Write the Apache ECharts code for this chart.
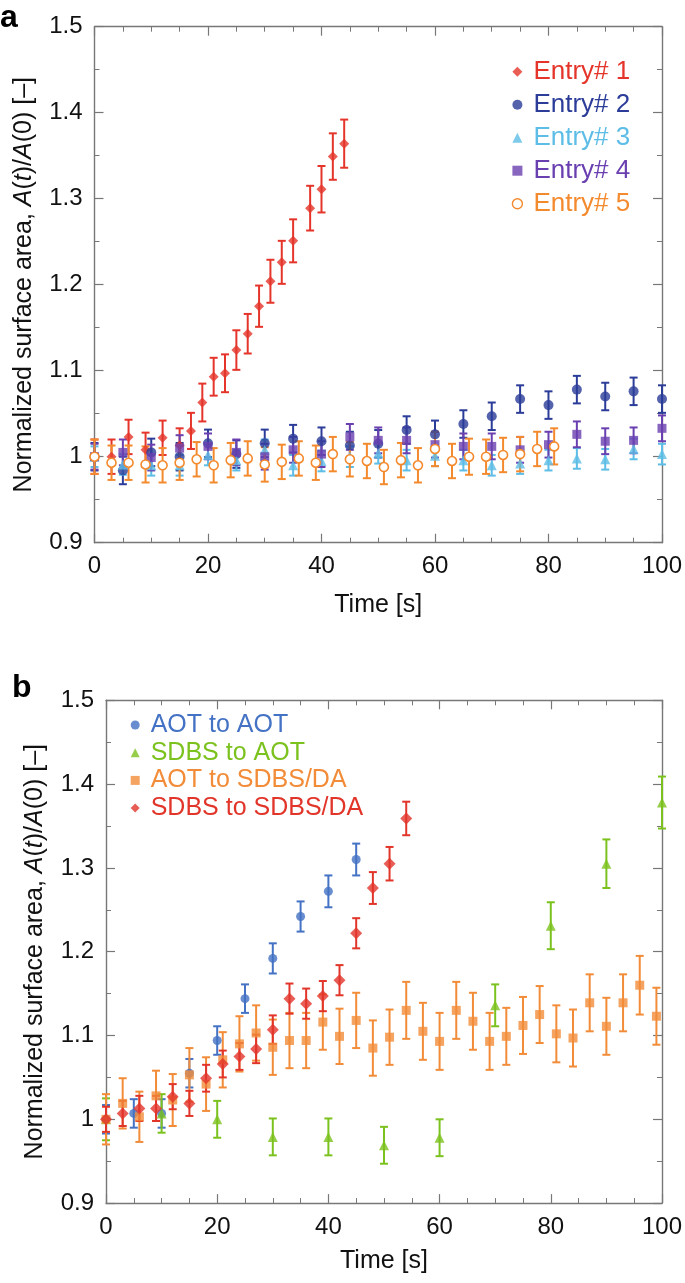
<!DOCTYPE html>
<html><head><meta charset="utf-8">
<script src="https://cdn.jsdelivr.net/npm/echarts@6/dist/echarts.min.js"></script>
<style>html,body{margin:0;padding:0;background:#fff}#c{width:685px;height:1283px}</style>
</head><body><div id="c"></div>
<script>
// ---------- Panel a data ----------
const a1T = [0,3,6,9,12,15,17,19,21,23,25,27,29,31,33,35,38,40,42,44];
const a1V = [1.0,1.0,1.023,1.008,1.022,1.013,1.030,1.063,1.093,1.097,1.124,1.143,1.175,1.204,1.226,1.251,1.289,1.311,1.349,1.364];
const a1E = [0.02,0.02,0.02,0.02,0.02,0.02,0.021,0.022,0.022,0.022,0.023,0.023,0.024,0.025,0.025,0.025,0.026,0.027,0.027,0.028];

const a2T = [0,5,10,15,20,25,30,35,40,45,50,55,60,65,70,75,80,85,90,95,100];
const a2V = [1.0,0.984,1.005,1.0,1.0155,1.003,1.0155,1.021,1.018,1.013,1.015,1.031,1.026,1.038,1.047,1.067,1.060,1.078,1.070,1.076,1.067];
const a2E = [0.016,0.016,0.016,0.016,0.016,0.016,0.016,0.016,0.016,0.016,0.016,0.016,0.016,0.016,0.016,0.016,0.016,0.016,0.016,0.016,0.016];

const a3T = [0,5,10,15,20,25,30,35,40,45,50,55,60,65,70,75,80,85,90,95,100];
const a3V = [1.0,0.991,0.99,0.99,1.002,0.996,1.008,0.99,0.995,1.0,1.004,0.996,1.001,0.996,0.99,0.992,0.996,0.998,0.997,1.009,1.003];
const a3E = [0.012,0.012,0.012,0.012,0.012,0.012,0.012,0.012,0.012,0.012,0.012,0.012,0.012,0.012,0.012,0.012,0.012,0.012,0.012,0.012,0.012];

const a4T = [0,5,10,15,20,25,30,35,40,45,50,55,60,65,70,75,80,85,90,95,100];
const a4V = [1.0,1.005,0.999,1.01,1.012,1.005,1.0,1.008,1.003,1.023,1.019,1.019,1.014,1.012,1.012,1.008,1.014,1.026,1.018,1.019,1.033];
const a4E = [0.015,0.015,0.015,0.015,0.015,0.015,0.015,0.015,0.015,0.015,0.015,0.015,0.015,0.015,0.015,0.015,0.015,0.015,0.015,0.015,0.015];

const a5T = [0,3,6,9,12,15,18,21,24,27,30,33,36,39,42,45,48,51,54,57,60,63,66,69,72,75,78,81];
const a5V = [1.0,0.993,0.993,0.991,0.990,0.993,0.997,0.990,0.996,0.998,0.991,0.994,0.998,0.993,1.003,0.997,0.995,0.988,0.996,0.990,1.009,0.995,1.0,1.0,1.002,1.003,1.009,1.012];
const a5E = [0.02,0.02,0.02,0.021,0.02,0.02,0.02,0.02,0.02,0.02,0.02,0.02,0.02,0.02,0.02,0.02,0.02,0.02,0.02,0.02,0.02,0.02,0.021,0.02,0.02,0.02,0.02,0.021];

const aNames = ['Entry# 1','Entry# 2','Entry# 3','Entry# 4','Entry# 5'];

// ---------- Panel b data ----------
const b1T = [0,5,10,15,20,25,30,35,40,45];
const b1V = [1.0,1.007,1.007,1.055,1.094,1.144,1.192,1.242,1.272,1.31];
const b1E = [0.017,0.017,0.017,0.017,0.017,0.017,0.018,0.018,0.019,0.019];

const b2T = [0,10,20,30,40,50,60,70,80,90,100];
const b2V = [1.0,1.007,1.0,0.979,0.979,0.969,0.978,1.136,1.231,1.305,1.378];
const b2E = [0.025,0.023,0.022,0.022,0.022,0.022,0.022,0.025,0.028,0.029,0.031];

const b3T = [0,3,6,9,12,15,18,21,24,27,30,33,36,39,42,45,48,51,54,57,60,63,66,69,72,75,78,81,84,87,90,93,96,99];
const b3V = [1.0,1.019,1.003,1.028,1.023,1.053,1.042,1.071,1.090,1.103,1.086,1.094,1.094,1.116,1.099,1.118,1.085,1.098,1.130,1.105,1.093,1.130,1.117,1.093,1.099,1.112,1.125,1.102,1.097,1.139,1.111,1.139,1.160,1.123];
const b3E = [0.03,0.03,0.03,0.03,0.031,0.032,0.032,0.033,0.033,0.033,0.033,0.033,0.033,0.033,0.033,0.033,0.033,0.033,0.034,0.034,0.034,0.034,0.034,0.034,0.034,0.034,0.034,0.034,0.034,0.034,0.034,0.034,0.035,0.034];

const b4T = [0,3,6,9,12,15,18,21,24,27,30,33,36,39,42,45,48,51,54];
const b4V = [1.0,1.007,1.013,1.013,1.027,1.019,1.049,1.066,1.075,1.084,1.107,1.144,1.138,1.147,1.166,1.222,1.276,1.305,1.359];
const b4E = [0.015,0.015,0.015,0.015,0.015,0.015,0.016,0.016,0.016,0.017,0.017,0.018,0.018,0.018,0.018,0.018,0.019,0.02,0.02];

const bNames = ['AOT to AOT','SDBS to AOT','AOT to SDBS/DA','SDBS to SDBS/DA'];

// ---------- tick labels ----------
const xTickLabels = ['0','20','40','60','80','100'];
const yTickLabels = ['0.9','1','1.1','1.2','1.3','1.4','1.5'];

const FONT = '"Liberation Sans", Arial, Helvetica, sans-serif';
const AX = '#777';

function zip(t, v, e) { return t.map((x, i) => [x, v[i], e[i]]); }

function errSeries(name, gi, t, v, e, color) {
  return {
    type: 'custom', name: name + ' err', xAxisIndex: gi * 2, yAxisIndex: gi * 2,
    data: zip(t, v, e), encode: { x: 0, y: 1 }, silent: true,
    renderItem: function (params, api) {
      const x = api.value(0), y = api.value(1), er = api.value(2);
      const top = api.coord([x, y + er]);
      const bot = api.coord([x, y - er]);
      const hw = 4;
      const st = { stroke: color, lineWidth: 2, fill: null };
      return { type: 'group', children: [
        { type: 'line', shape: { x1: top[0], y1: top[1], x2: bot[0], y2: bot[1] }, style: st },
        { type: 'line', shape: { x1: top[0] - hw, y1: top[1], x2: top[0] + hw, y2: top[1] }, style: st },
        { type: 'line', shape: { x1: bot[0] - hw, y1: bot[1], x2: bot[0] + hw, y2: bot[1] }, style: st }
      ]};
    }
  };
}
function ptSeries(name, gi, t, v, color, symbol, size, open) {
  return {
    type: 'scatter', name: name, xAxisIndex: gi * 2, yAxisIndex: gi * 2,
    data: t.map((x, i) => [x, v[i]]), symbol: symbol, symbolSize: size,
    itemStyle: open ? { color: '#ffffff', borderColor: color, borderWidth: 1.6, opacity: 1 } : { color: color },
    emphasis: { disabled: true }
  };
}

function xAx(gi, pos, nameGap) {
  const main = pos === 'bottom';
  return {
    gridIndex: gi, type: 'value', min: 0, max: 100, interval: 20, position: pos,
    axisLine: { show: true, onZero: false, lineStyle: { color: AX, width: 1.4 } },
    axisTick: { show: true, inside: true, length: 9, lineStyle: { color: AX, width: 1.2 } },
    minorTick: { show: true, splitNumber: 4, length: 5, lineStyle: { color: AX, width: 1 } },
    splitLine: { show: false }, minorSplitLine: { show: false },
    axisLabel: { show: main, fontSize: 24, color: '#111', margin: 12, fontFamily: FONT,
      formatter: v => xTickLabels[Math.round(v / 20)] },
    name: main ? 'Time [s]' : '', nameLocation: 'middle', nameGap: nameGap,
    nameTextStyle: { fontSize: 25, color: '#111', fontFamily: FONT }
  };
}
function yAx(gi, pos, nameGap) {
  const main = pos === 'left';
  return {
    gridIndex: gi, type: 'value', min: 0.9, max: 1.5, interval: 0.1, position: pos,
    axisLine: { show: true, onZero: false, lineStyle: { color: AX, width: 1.4 } },
    axisTick: { show: true, inside: true, length: 9, lineStyle: { color: AX, width: 1.2 } },
    minorTick: { show: true, splitNumber: 2, length: 5, lineStyle: { color: AX, width: 1 } },
    splitLine: { show: false }, minorSplitLine: { show: false },
    axisLabel: { show: main, fontSize: 24, color: '#111', margin: 12, fontFamily: FONT,
      formatter: v => yTickLabels[Math.round((v - 0.9) / 0.1)] },
    name: main ? 'Normalized surface area, {i|A}({i|t})/{i|A}(0) [–]' : '',
    nameLocation: 'middle', nameGap: nameGap, nameRotate: 90,
    nameTextStyle: { fontSize: 25, color: '#111', fontFamily: FONT,
      rich: { i: { fontStyle: 'italic', fontSize: 25, color: '#111', fontFamily: FONT } } }
  };
}

const cA = ['#E5352B', '#2B3C99', '#5DBDE6', '#6A40B0', '#F48A2E'];
const cB = ['#4472C4', '#7CC21E', '#F28C38', '#E2352A'];

const series = [
  errSeries(aNames[0], 0, a1T, a1V, a1E, cA[0]), ptSeries(aNames[0], 0, a1T, a1V, cA[0], 'diamond', 10),
  errSeries(aNames[1], 0, a2T, a2V, a2E, cA[1]), ptSeries(aNames[1], 0, a2T, a2V, cA[1], 'circle', 10),
  errSeries(aNames[2], 0, a3T, a3V, a3E, cA[2]), ptSeries(aNames[2], 0, a3T, a3V, cA[2], 'triangle', 10),
  errSeries(aNames[3], 0, a4T, a4V, a4E, cA[3]), ptSeries(aNames[3], 0, a4T, a4V, cA[3], 'rect', 9),
  errSeries(aNames[4], 0, a5T, a5V, a5E, cA[4]), ptSeries(aNames[4], 0, a5T, a5V, cA[4], 'circle', 9, true),

  errSeries(bNames[0], 1, b1T, b1V, b1E, cB[0]), ptSeries(bNames[0], 1, b1T, b1V, cB[0], 'circle', 9),
  errSeries(bNames[1], 1, b2T, b2V, b2E, cB[1]), ptSeries(bNames[1], 1, b2T, b2V, cB[1], 'triangle', 10),
  errSeries(bNames[2], 1, b3T, b3V, b3E, cB[2]), ptSeries(bNames[2], 1, b3T, b3V, cB[2], 'rect', 9),
  errSeries(bNames[3], 1, b4T, b4V, b4E, cB[3]), ptSeries(bNames[3], 1, b4T, b4V, cB[3], 'diamond', 12)
];

const legendSymbolsA = ['diamond', 'circle', 'triangle', 'rect', 'circle'];
const legendSymbolsB = ['circle', 'triangle', 'rect', 'diamond'];

const option = {
  animation: false,
  backgroundColor: '#fff',
  grid: [
    { left: 94.5, right: 20, top: 26.7, height: 516, containLabel: false },
    { left: 106, right: 23, top: 700.3, height: 502.8, containLabel: false }
  ],
  xAxis: [xAx(0, 'bottom', 50), xAx(0, 'top', 0), xAx(1, 'bottom', 46), xAx(1, 'top', 0)],
  yAxis: [yAx(0, 'left', 58), yAx(0, 'right', 0), yAx(1, 'left', 58), yAx(1, 'right', 0)],
  legend: [
    {
      orient: 'vertical', left: 506.7, top: 53.7, itemWidth: 10, itemHeight: 10, itemGap: 7,
      selectedMode: false,
      textStyle: { fontSize: 26, fontFamily: FONT, lineHeight: 26, padding: [0, 0, 0, 6] },
      data: aNames.map((n, i) => ({
        name: n, icon: legendSymbolsA[i],
        itemStyle: i === 4 ? { color: '#fff', borderColor: cA[4], borderWidth: 1.4 } : { color: cA[i] },
        textStyle: { color: cA[i] }
      }))
    },
    {
      orient: 'vertical', left: 125.7, top: 707.5, itemWidth: 9, itemHeight: 9, itemGap: 2.7,
      selectedMode: false,
      textStyle: { fontSize: 25, fontFamily: FONT, lineHeight: 25, padding: [0, 0, 0, 6] },
      data: bNames.map((n, i) => ({ name: n, icon: legendSymbolsB[i], textStyle: { color: cB[i] } }))
    }
  ],
  graphic: [
    { type: 'text', left: 0, top: 2, style: { text: 'a', font: 'bold 32px ' + FONT, fill: '#000' } },
    { type: 'text', left: 12, top: 672, style: { text: 'b', font: 'bold 32px ' + FONT, fill: '#000' } }
  ],
  series: series
};

const chart = echarts.init(document.getElementById('c'), null, { renderer: 'canvas' });
chart.setOption(option);
</script>
</body></html>
